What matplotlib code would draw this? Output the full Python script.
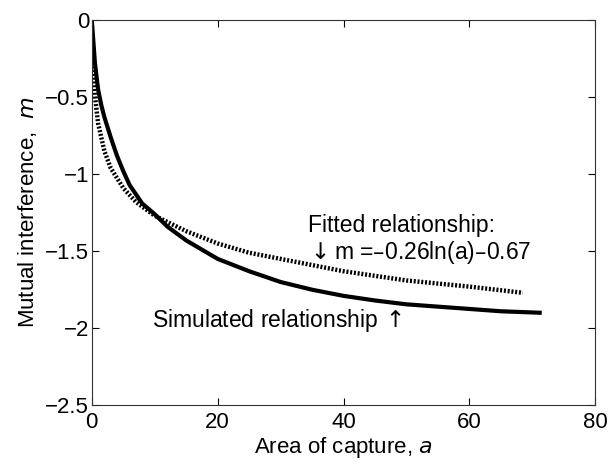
import matplotlib
matplotlib.use("Agg")
import matplotlib.pyplot as plt

plt.rcParams["font.family"] = ["Liberation Sans", "DejaVu Sans"]

# simulated relationship (solid)
sim_a = [0, 0.5, 1, 1.5, 2, 3, 4, 5, 6, 8, 10, 12, 15, 20, 25, 30, 35, 40,
         45, 50, 55, 60, 65, 71.5]
sim_m = [0, -0.28, -0.45, -0.55, -0.63, -0.76, -0.88, -0.98, -1.07, -1.19,
         -1.26, -1.34, -1.43, -1.55, -1.63, -1.70, -1.75, -1.79, -1.82,
         -1.845, -1.86, -1.875, -1.89, -1.90]

# fitted relationship (dotted)
fit_a = [0.25, 0.5, 1, 2, 3, 5, 7, 10, 15, 20, 25, 30, 40, 50, 60, 68.5]
fit_m = [-0.30, -0.49, -0.67, -0.85, -0.96, -1.09, -1.18, -1.27, -1.37,
         -1.45, -1.51, -1.55, -1.63, -1.69, -1.73, -1.77]

x_ticks = [0, 20, 40, 60, 80]
y_ticks = [-2.5, -2, -1.5, -1, -0.5, 0]

fig = plt.figure(figsize=(6.08, 4.69), dpi=100)
ax = fig.add_axes([0.151, 0.136, 0.828, 0.821])

ax.plot(sim_a, sim_m, color="black", lw=3.0, solid_capstyle="butt")
ax.plot(fit_a, fit_m, color="black", lw=3.2, linestyle=(0, (0.45, 0.4)))

ax.set_xlim(0, 80)
ax.set_ylim(-2.5, 0)
ax.set_xticks(x_ticks)
ax.set_yticks(y_ticks)
ax.set_yticklabels(["\u22122.5", "\u22122", "\u22121.5", "\u22121", "\u22120.5", "0"])
ax.tick_params(direction="in", length=5, labelsize=16, top=True, right=True,
               labeltop=False, labelright=False)
ax.tick_params(axis="x", pad=5)
ax.tick_params(axis="y", pad=2)
for s in ax.spines.values():
    s.set_linewidth(0.8)
    s.set_color("#333333")

ax.set_xlabel("Area of capture, $\\it{a}$", fontsize=16, labelpad=1)
ax.set_ylabel("Mutual interference,  $\\it{m}$", fontsize=16, labelpad=4)

ax.text(34.3, -1.33, "Fitted relationship:", fontsize=16.5, va="center")
ax.text(34.0, -1.51, "$\\downarrow$m =\u20130.26ln(a)\u20130.67", fontsize=16.5, va="center")
ax.text(9.6, -1.95, "Simulated relationship$\\,\\uparrow$", fontsize=16.5, va="center")

fig.savefig("out.png", dpi=100)
